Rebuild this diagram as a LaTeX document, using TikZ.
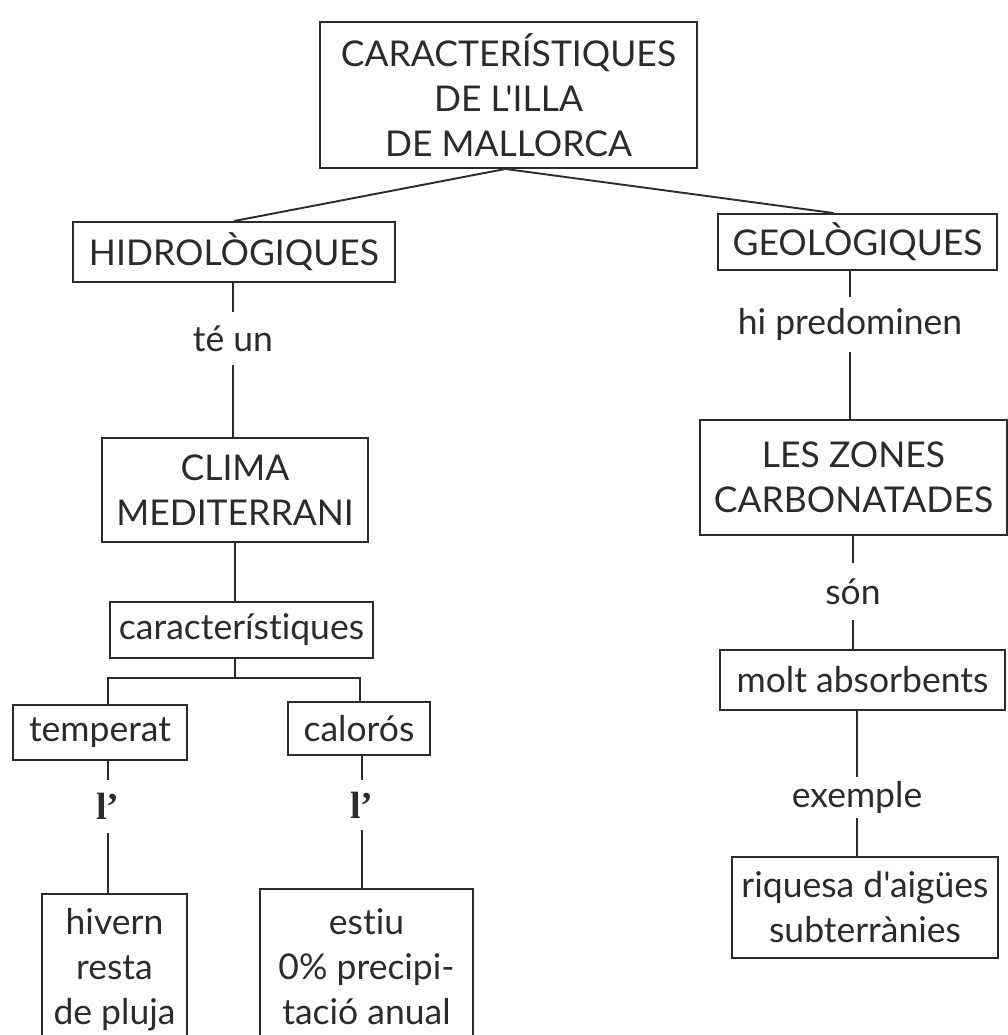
\documentclass[tikz,border=0pt]{standalone}
\usepackage{fontspec}
\newfontfamily\lato{Lato}[Ligatures={NoCommon}]
\newfontfamily\serf{Liberation Serif}
\definecolor{ink}{HTML}{2B2B2B}
\begin{document}
\begin{tikzpicture}[x=1pt,y=-1pt,
  every node/.style={text=ink, font=\lato\fontsize{35.5}{45}\selectfont},
  box/.style={draw=ink, line width=1.9pt, align=center, inner sep=0pt},
  lbl/.style={inner xsep=2pt, inner ysep=0pt, align=center},
  conn/.style={draw=ink, line width=1.9pt}]
\useasboundingbox (0,0) rectangle (1008,1035);
\clip (0,0) rectangle (1008,1035);
% boxes
\node[box, minimum width=377, minimum height=146] (top) at (508.5,95) {CARACTERÍSTIQUES\\DE L'ILLA\\DE MALLORCA};
\node[box, minimum width=322, minimum height=60] (hidro) at (234,252) {HIDROLÒGIQUES};
\node[box, minimum width=279, minimum height=56] (geo) at (857.5,242) {GEOLÒGIQUES};
\node[box, minimum width=266, minimum height=104] (clima) at (235,490) {CLIMA\\MEDITERRANI};
\node[box, minimum width=263, minimum height=56] (caract) at (241.5,630) {característiques};
\node[box, minimum width=174, minimum height=55] (temperat) at (100,732.5) {temperat};
\node[box, minimum width=142, minimum height=53] (caloros) at (359,728.5) {calorós};
\node[box, minimum width=145, minimum height=172, anchor=north] (hivern) at (114.5,893) {};
\node[box, minimum width=213, minimum height=172, anchor=north] (estiu) at (366.5,888) {};
\node[anchor=north, align=center] (hiverntxt) at (114.5,905) {hivern\\resta\\de pluja};
\node[anchor=north, align=center] (estiutxt) at (366.5,905) {estiu\\0\% precipi-\\tació anual};
\node[box, minimum width=307, minimum height=115] (zones) at (853.5,477.5) {LES ZONES\\CARBONATADES};
\node[box, minimum width=285, minimum height=60] (molt) at (862.5,680) {molt absorbents};
\node[box, minimum width=266, minimum height=101] (riquesa) at (865,907.5) {riquesa d'aigües\\subterrànies};
% labels
\node[lbl, minimum height=53] (teun) at (233,338.5) {té un};
\node[lbl, minimum height=55] (hipred) at (850,324.5) {hi predominen};
\node[lbl, minimum height=57] (son) at (853,591.5) {són};
\node[lbl, minimum height=41] (exemple) at (857,797.5) {exemple};
\node[lbl, minimum height=53, font=\serf\fontsize{38}{45}\selectfont\bfseries] (lesq) at (108,806.5) {l’};
\node[lbl, minimum height=50, font=\serf\fontsize{38}{45}\selectfont\bfseries] (ldr) at (362,805) {l’};
% junctions
\coordinate (split) at (235,678);
\coordinate (jl) at (108,678);
\coordinate (jr) at (360,678);
% connectors
\draw[conn] ([xshift=-3]top.south) -- (hidro.north);
\draw[conn] ([xshift=-3]top.south) -- ([xshift=-24]geo.north);
\draw[conn] (teun.north) -- (teun.north |- hidro.south);
\draw[conn] (teun.south) -- (teun.south |- clima.north);
\draw[conn] (hipred.north) -- (hipred.north |- geo.south);
\draw[conn] (hipred.south) -- (hipred.south |- zones.north);
\draw[conn] (split |- clima.south) -- (split |- caract.north);
\draw[conn] (split |- caract.south) -- (split);
\draw[conn] (jl |- temperat.north) -- (jl) -- (jr) -- (jr |- caloros.north);
\draw[conn] (lesq.north) -- (lesq.north |- temperat.south);
\draw[conn] (lesq.south) -- (lesq.south |- hivern.north);
\draw[conn] (ldr.north) -- (ldr.north |- caloros.south);
\draw[conn] (ldr.south) -- (ldr.south |- estiu.north);
\draw[conn] (son.north) -- (son.north |- zones.south);
\draw[conn] (son.south) -- (son.south |- molt.north);
\draw[conn] (exemple.north) -- (exemple.north |- molt.south);
\draw[conn] (exemple.south) -- (exemple.south |- riquesa.north);
\end{tikzpicture}
\end{document}
